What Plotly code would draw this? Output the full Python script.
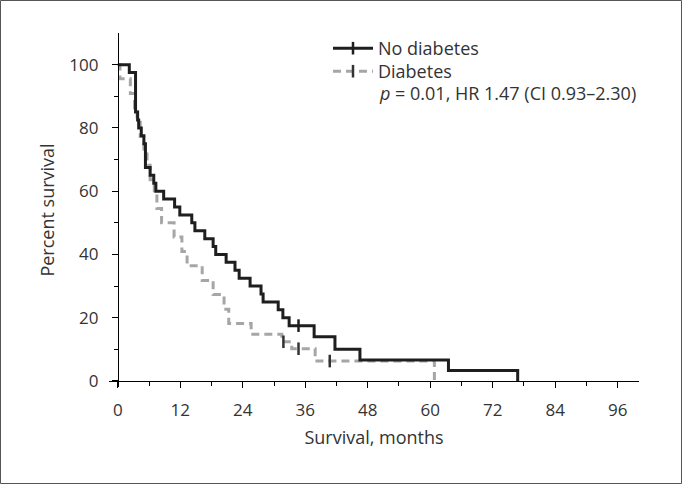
import plotly.graph_objects as go

# ---- data ----
nd_time = [0, 2.2, 3.4, 3.8, 4.0, 4.5, 5.0, 5.3, 6.2, 6.9, 7.3, 8.8, 10.9, 11.9, 14.2, 14.8,
           16.7, 18.3, 18.8, 20.8, 22.5, 23.3, 25.4, 27.5, 27.9, 30.8, 31.7, 32.9, 37.7,
           41.7, 46.5, 63.5, 76.8]
nd_surv = [100, 97.5, 85, 82.5, 80, 77.5, 75, 67.5, 65, 62.5, 60, 57.5, 55, 52.5, 50, 47.5,
           45, 42.5, 40, 37.5, 35, 32.5, 30, 27.5, 25, 22.5, 20, 17.5, 14.0,
           10, 6.67, 3.33, 0]
nd_cens_time = [34.7]
nd_cens_surv = [17.5]

d_time = [0, 0.4, 2.4, 3.2, 3.7, 4.3, 5.0, 5.6, 6.2, 7.0, 7.5, 8.4, 10.8, 12.3, 13.3,
          16.2, 18.3, 20.4, 21.3, 25.6, 31.5, 33.4, 37.9, 60.8]
d_surv = [100, 95.5, 90.9, 86.4, 81.8, 77.3, 72.7, 68.2, 63.6, 59.1, 54.5, 50, 45.5, 40.9, 36.4,
          31.8, 27.3, 22.7, 18.2, 14.8, 12.4, 10.2, 6.3, 0]
d_cens_time = [31.8, 34.7, 40.7]
d_cens_surv = [12.4, 10.2, 6.3]

x_ticks = [0, 12, 24, 36, 48, 60, 72, 84, 96]
y_ticks = [0, 20, 40, 60, 80, 100]
y_minor = [10, 30, 50, 70, 90]

labels = ["No diabetes", "Diabetes"]
stats_text = "<i>p</i> = 0.01, HR 1.47 (CI 0.93–2.30)"
x_title = "Survival, months"
y_title = "Percent survival"

BLACK = "#1e1e1e"
GRAY = "#a6a6a6"
TXT = "#333333"
FONT = "Open Sans"

fig = go.Figure()

# curves
fig.add_trace(go.Scatter(x=d_time, y=d_surv, mode="lines", line_shape="hv",
                         line=dict(color=GRAY, width=3, dash="8px,5px"), showlegend=False))
fig.add_trace(go.Scatter(x=nd_time, y=nd_surv, mode="lines", line_shape="hv",
                         line=dict(color=BLACK, width=3), showlegend=False))
# censor marks
fig.add_trace(go.Scatter(x=d_cens_time, y=d_cens_surv, mode="markers", showlegend=False,
                         marker=dict(symbol="line-ns", size=9,
                                     line=dict(color="#333333", width=2.5))))
fig.add_trace(go.Scatter(x=nd_cens_time, y=nd_cens_surv, mode="markers", showlegend=False,
                         marker=dict(symbol="line-ns", size=9,
                                     line=dict(color=BLACK, width=2.5))))
# legend entries (one legend per entry for exact spacing)
fig.add_trace(go.Scatter(x=[None], y=[None], mode="lines+markers", name=labels[0],
                         legend="legend",
                         line=dict(color=BLACK, width=3),
                         marker=dict(symbol="line-ns", size=9, line=dict(color=BLACK, width=2.5))))
fig.add_trace(go.Scatter(x=[None], y=[None], mode="lines+markers", name=labels[1],
                         legend="legend2",
                         line=dict(color=GRAY, width=3, dash="8px,5px"),
                         marker=dict(symbol="line-ns", size=9, line=dict(color="#333333", width=2.5))))

L, R, T, B = 109, 43, 33, 97
W, H = 682, 484
pw, ph = W - L - R, H - T - B
xr = [-1.7, 100.1]
yr = [-1.9, 110]

leg_common = dict(xanchor="left", yanchor="top", bgcolor="rgba(0,0,0,0)",
                  font=dict(size=18, color=TXT), itemwidth=40)

fig.update_layout(
    width=W, height=H,
    margin=dict(l=L, r=R, t=T, b=B, autoexpand=False),
    paper_bgcolor="white", plot_bgcolor="white",
    font=dict(family=FONT, size=17, color=TXT),
    showlegend=True,
    legend=dict(x=(328 - L) / pw, y=(H - B - 30) / ph, **leg_common),
    legend2=dict(x=(328 - L) / pw, y=(H - B - 53) / ph, **leg_common),
    xaxis=dict(range=xr, domain=[0, 1], anchor="free", automargin=False,
               position=(0 - yr[0]) / (yr[1] - yr[0]),
               showline=True, linecolor="black", linewidth=1,
               showgrid=False, zeroline=False,
               tickvals=x_ticks, ticks="outside", ticklen=6, tickwidth=1, tickcolor="black",
               ticklabelstandoff=8,
               tickfont=dict(size=17, color=TXT),
               minor=dict(dtick=6, tick0=0, ticks="outside", ticklen=4, tickwidth=1,
                          tickcolor="black", showgrid=False),
               title=dict(text=x_title, font=dict(size=18, color=TXT), standoff=11)),
    yaxis=dict(range=yr, domain=[0, 1], anchor="free", automargin=False,
               position=(0 - xr[0]) / (xr[1] - xr[0]),
               showline=True, linecolor="black", linewidth=1,
               showgrid=False, zeroline=False,
               tickvals=y_ticks, ticks="outside", ticklen=6, tickwidth=1, tickcolor="black",
               ticklabelstandoff=10,
               tickfont=dict(size=17, color=TXT),
               minor=dict(tickvals=y_minor, ticks="outside", ticklen=4, tickwidth=1,
                          tickcolor="black", showgrid=False),
               title=dict(text=y_title, font=dict(size=18, color=TXT), standoff=8)),
)

fig.add_annotation(x=(377 - L) / pw, y=(H - B - 93) / ph, xref="paper", yref="paper",
                   text=stats_text, showarrow=False, xanchor="left", yanchor="middle",
                   font=dict(size=18, color=TXT))

# frame around the whole figure
fig.add_shape(type="rect", xref="paper", yref="paper",
              x0=(0.5 - L) / pw, x1=(W - 0.5 - L) / pw,
              y0=(H - B - (H - 0.5)) / ph, y1=(H - B - 0.5) / ph,
              line=dict(color="#555555", width=1))

fig.write_html("out.html", config={"displayModeBar": False},
               post_script="document.body.style.margin='0';document.body.style.overflow='hidden';")
